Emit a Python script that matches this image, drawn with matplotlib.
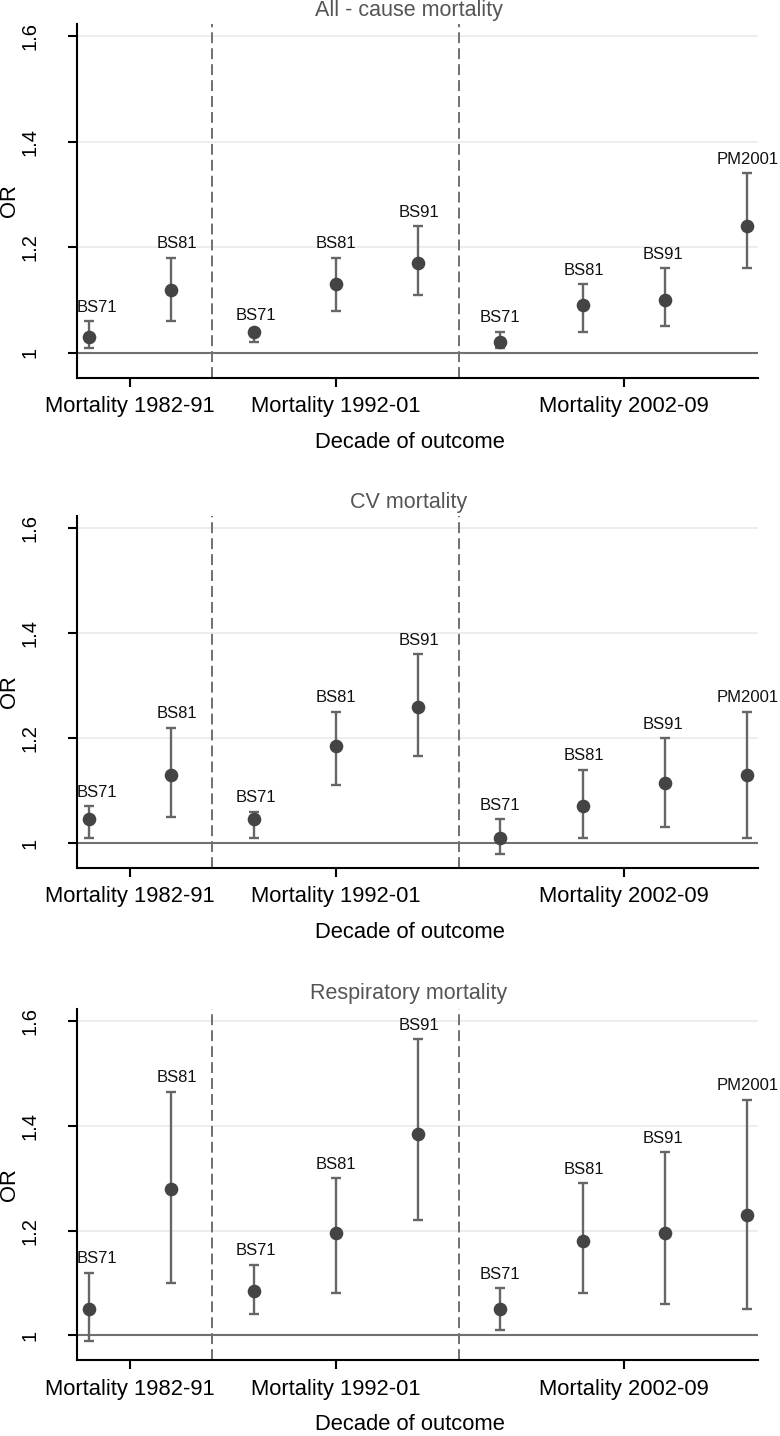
import matplotlib
matplotlib.use("Agg")

import matplotlib.pyplot as plt
import numpy as np

plt.rcParams["font.family"] = ["Liberation Sans", "DejaVu Sans"]

# ---------------------------------------------------------------------------
# Data (odds ratios with 95% CI)
# ---------------------------------------------------------------------------

STUDY = ["BS71", "BS81", "BS71", "BS81", "BS91", "BS71", "BS81", "BS91", "PM2001"]
GROUPS = ["Mortality 1982-91", "Mortality 1992-01", "Mortality 2002-09"]
GROUP_SIZES = [2, 3, 4]

ALL_OR = [1.03, 1.12, 1.04, 1.13, 1.17, 1.02, 1.09, 1.10, 1.24]
ALL_LO = [1.01, 1.06, 1.02, 1.08, 1.11, 1.01, 1.04, 1.05, 1.16]
ALL_HI = [1.06, 1.18, 1.045, 1.18, 1.24, 1.04, 1.13, 1.16, 1.34]

CV_OR = [1.045, 1.13, 1.045, 1.185, 1.26, 1.01, 1.07, 1.115, 1.13]
CV_LO = [1.01, 1.05, 1.01, 1.11, 1.165, 0.98, 1.01, 1.03, 1.01]
CV_HI = [1.07, 1.22, 1.06, 1.25, 1.36, 1.045, 1.14, 1.20, 1.25]

RESP_OR = [1.05, 1.28, 1.085, 1.195, 1.385, 1.05, 1.18, 1.195, 1.23]
RESP_LO = [0.99, 1.10, 1.04, 1.08, 1.22, 1.01, 1.08, 1.06, 1.05]
RESP_HI = [1.12, 1.465, 1.135, 1.30, 1.565, 1.09, 1.29, 1.35, 1.45]

PANELS = [
    ("All - cause mortality", ALL_OR, ALL_LO, ALL_HI),
    ("CV mortality", CV_OR, CV_LO, CV_HI),
    ("Respiratory mortality", RESP_OR, RESP_LO, RESP_HI),
]

# styling
W, H, DPI = 780, 1436, 100
AX_LEFT, AX_RIGHT = 77.3, 758.3
AX_TOPS = [24, 516, 1009]
AX_BOTTOMS = [377.7, 867.7, 1360]
TITLE_BASE = [16, 508, 999]
LABEL_DX = [5.5, 4, 1.5, 0, 0.7, 0, 0.7, -1.5, 0]

MARKER_C = "#444444"
BAR_C = "#666666"
REF_C = "#707070"
GRID_C = "#ececec"


def draw_panel(ax, est, lo, hi):
    x = np.arange(1, len(est) + 1)
    est = np.asarray(est)
    lo = np.asarray(lo)
    hi = np.asarray(hi)

    ax.set_ylim(0.953, 1.623)
    ax.set_xlim(0.858, 9.134)
    ax.set_yticks([1, 1.2, 1.4, 1.6])
    ax.set_yticklabels(["1", "1.2", "1.4", "1.6"], rotation=90, va="center")
    ax.grid(axis="y", color=GRID_C, linewidth=1.3, zorder=0)
    ax.set_axisbelow(True)
    ax.axhline(1, color=REF_C, linewidth=1.5, zorder=1)

    # dashed separators between decades
    edges = np.cumsum(GROUP_SIZES)[:-1] + 0.5
    for e in edges:
        ax.axvline(e, color=REF_C, linewidth=1.4, linestyle=(0, (5.6, 2.6)), zorder=1)

    ax.errorbar(x, est, yerr=[est - lo, hi - est], fmt="o", color=MARKER_C,
                ecolor=BAR_C, elinewidth=1.7, capsize=3.3, capthick=1.7,
                markersize=8.8, zorder=3)

    for xi, h, lab, dx in zip(x, hi, STUDY, LABEL_DX):
        ax.annotate(lab, (xi, h), xytext=(dx, 10), textcoords="offset points",
                    ha="center", va="center", fontsize=12, color="#111111")

    starts = np.concatenate([[0], np.cumsum(GROUP_SIZES)[:-1]])
    centers = [x[s:s + n].mean() for s, n in zip(starts, GROUP_SIZES)]
    ax.set_xticks(centers)
    ax.set_xticklabels(GROUPS)

    for side in ("top", "right"):
        ax.spines[side].set_visible(False)
    for side in ("left", "bottom"):
        ax.spines[side].set_linewidth(1.5)
    ax.tick_params(axis="x", length=6.5, width=1.5, pad=7, labelsize=15.8)
    ax.tick_params(axis="y", length=6.5, width=1.5, pad=21, labelsize=14.5)

    ax.set_xlabel("Decade of outcome", fontsize=15.8)
    ax.xaxis.set_label_coords(0.489, -0.183)
    ax.xaxis.label.set_va("center")
    ax.set_ylabel("OR", fontsize=15.8)
    ax.yaxis.set_label_coords(-0.0996, 0.5)
    ax.yaxis.label.set_va("center")


def main():
    fig = plt.figure(figsize=(W / DPI, H / DPI), dpi=DPI)
    for (title, est, lo, hi), top, bot, ty in zip(PANELS, AX_TOPS, AX_BOTTOMS, TITLE_BASE):
        ax = fig.add_axes([AX_LEFT / W, 1 - bot / H,
                           (AX_RIGHT - AX_LEFT) / W, (bot - top) / H])
        draw_panel(ax, est, lo, hi)
        fig.text(409 / W, 1 - ty / H, title, ha="center", va="baseline",
                 fontsize=15.5, color="#555555")
    fig.savefig("out.png", dpi=DPI)
    plt.close(fig)


if __name__ == "__main__":
    main()
